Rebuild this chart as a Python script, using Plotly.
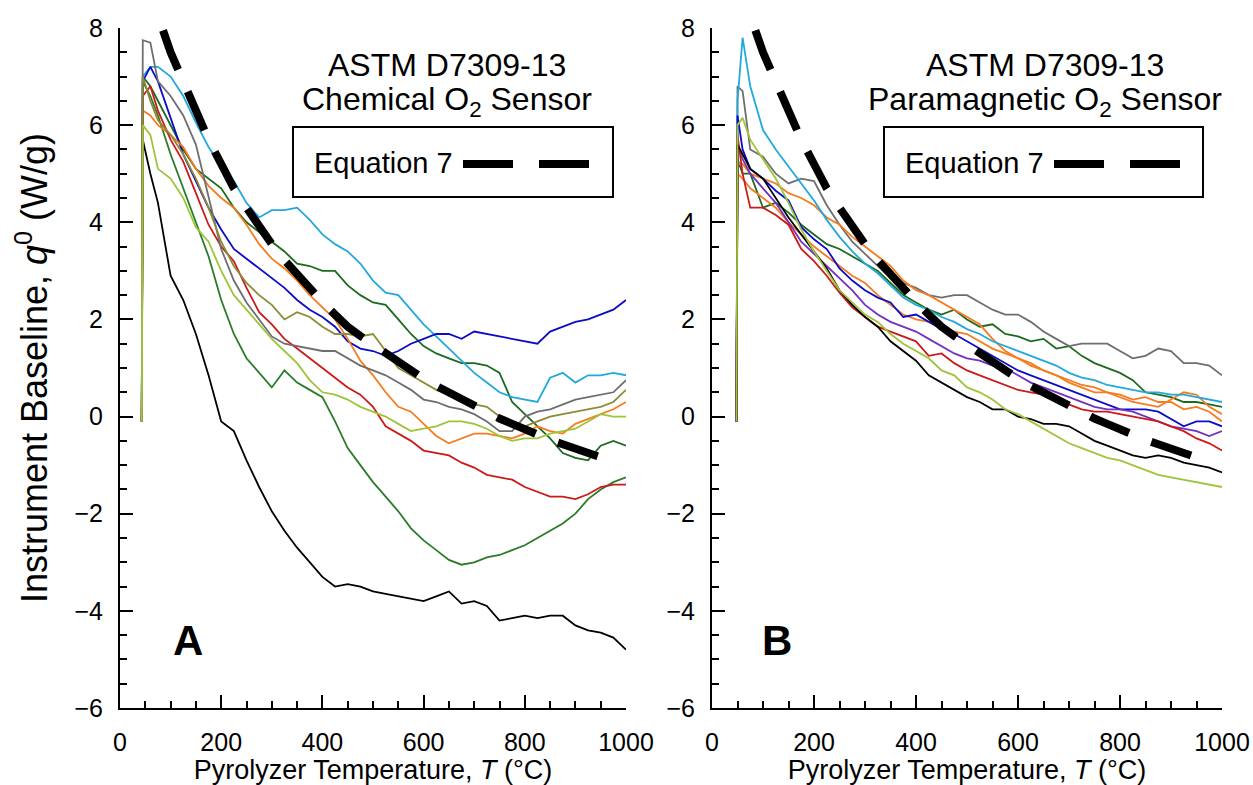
import plotly.graph_objects as go

# ---------------- data ----------------
# temperature grid, panel A (chemical sensor) and panel B (paramagnetic sensor)
T_A = [43, 45, 60, 75, 100, 125, 150, 175, 200, 225, 250, 275, 300, 325, 350, 375, 400,
       425, 450, 475, 500, 525, 550, 575, 600, 625, 650, 675, 700, 725, 750, 775, 800,
       825, 850, 875, 900, 925, 950, 975, 1000]
T_B = [48, 50, 60, 75, 100, 125, 150, 175, 200, 225, 250, 275, 300, 325, 350, 375, 400,
       425, 450, 475, 500, 525, 550, 575, 600, 625, 650, 675, 700, 725, 750, 775, 800,
       825, 850, 875, 900, 925, 950, 975, 1000]

# Panel A series (q0, W/g)
a_black = [-0.1, 5.7, 5.0, 4.4, 2.9, 2.4, 1.7, 0.85, -0.1, -0.3, -0.9, -1.45, -1.95, -2.35, -2.7, -3.0, -3.3,
           -3.5, -3.45, -3.5, -3.6, -3.65, -3.7, -3.75, -3.8, -3.7, -3.6, -3.85, -3.8, -3.9, -4.2, -4.15, -4.1,
           -4.15, -4.1, -4.1, -4.3, -4.4, -4.45, -4.55, -4.8]
a_green_low = [-0.1, 6.9, 6.6, 6.2, 5.4, 4.7, 4.0, 3.3, 2.4, 1.7, 1.2, 0.9, 0.6, 0.95, 0.7, 0.55, 0.4,
               -0.1, -0.65, -1.0, -1.35, -1.65, -1.95, -2.3, -2.55, -2.75, -2.95, -3.05, -3.0, -2.9, -2.85, -2.75, -2.65,
               -2.5, -2.35, -2.2, -2.0, -1.7, -1.5, -1.35, -1.25]
a_green_up = [-0.1, 7.0, 6.8, 6.5, 6.0, 5.5, 5.1, 4.9, 4.7, 4.3, 4.0, 3.8, 3.6, 3.4, 3.15, 3.1, 3.0,
              3.0, 2.7, 2.5, 2.35, 2.3, 2.0, 1.7, 1.45, 1.3, 1.2, 1.1, 1.1, 1.05, 0.9, 0.3, 0.05,
              -0.2, -0.45, -0.75, -0.85, -0.9, -0.6, -0.5, -0.6]
a_cyan = [-0.1, 7.0, 7.2, 7.2, 7.0, 6.6, 6.05, 5.55, 5.15, 4.85, 4.4, 4.1, 4.25, 4.25, 4.3, 4.05, 3.75,
          3.55, 3.4, 3.15, 2.8, 2.55, 2.5, 2.2, 1.9, 1.65, 1.4, 1.15, 0.9, 0.7, 0.5, 0.4, 0.35,
          0.3, 0.8, 0.9, 0.7, 0.85, 0.85, 0.9, 0.85]
a_blue = [-0.1, 6.9, 7.2, 6.9, 6.15, 5.4, 4.85, 4.3, 3.85, 3.45, 3.25, 3.05, 2.85, 2.65, 2.4, 2.2, 2.05,
          1.85, 1.55, 1.4, 1.35, 1.25, 1.35, 1.5, 1.6, 1.7, 1.7, 1.6, 1.75, 1.7, 1.65, 1.6, 1.55,
          1.5, 1.75, 1.85, 1.95, 2.0, 2.1, 2.2, 2.4]
a_orange = [-0.1, 6.3, 6.2, 6.0, 5.8, 5.55, 5.1, 4.75, 4.5, 4.3, 3.95, 3.55, 3.25, 3.05, 2.8, 2.5, 2.25,
            2.0, 1.6, 1.15, 0.85, 0.5, 0.2, 0.1, -0.15, -0.4, -0.55, -0.45, -0.35, -0.35, -0.4, -0.45, -0.35,
            -0.2, -0.3, -0.35, -0.15, -0.05, 0.05, 0.15, 0.3]
a_red = [-0.1, 6.6, 6.8, 6.3, 5.7, 5.25, 4.6, 3.95, 3.5, 3.2, 2.65, 2.15, 1.9, 1.6, 1.4, 1.2, 1.0,
         0.8, 0.6, 0.45, 0.2, -0.2, -0.35, -0.5, -0.7, -0.75, -0.8, -0.95, -1.05, -1.2, -1.25, -1.3, -1.45,
         -1.55, -1.65, -1.65, -1.7, -1.6, -1.45, -1.4, -1.4]
a_gray = [-0.1, 7.75, 7.7, 6.9, 6.6, 6.2, 5.6, 4.5, 3.45, 2.8, 2.35, 2.0, 1.65, 1.5, 1.45, 1.4, 1.35,
          1.35, 1.2, 1.05, 0.95, 0.85, 0.7, 0.55, 0.35, 0.3, 0.2, 0.15, 0.05, -0.1, -0.3, -0.3, 0.0,
          0.1, 0.15, 0.25, 0.35, 0.4, 0.45, 0.5, 0.75]
a_olive = [-0.1, 7.0, 6.5, 6.1, 5.8, 5.4, 4.9, 4.3, 3.6, 3.1, 2.75, 2.5, 2.3, 2.0, 2.15, 2.05, 1.85,
           1.7, 1.7, 1.65, 1.7, 1.35, 1.0, 0.85, 0.7, 0.55, 0.45, 0.3, 0.25, 0.2, 0.0, -0.1, -0.2,
           -0.1, 0.0, 0.05, 0.1, 0.15, 0.2, 0.3, 0.55]
a_ygreen = [-0.1, 6.0, 5.8, 5.1, 4.9, 4.5, 3.9, 3.6, 3.0, 2.5, 2.2, 1.9, 1.6, 1.35, 1.1, 0.75, 0.5,
            0.45, 0.35, 0.2, 0.1, 0.0, -0.15, -0.3, -0.25, -0.2, -0.1, -0.1, -0.15, -0.25, -0.4, -0.5, -0.45,
            -0.45, -0.35, -0.3, -0.25, -0.1, 0.05, 0.0, 0.0]

# Panel B series (q0, W/g)
b_cyan = [-0.1, 6.5, 7.8, 6.8, 5.9, 5.5, 5.15, 4.8, 4.45, 4.05, 3.7, 3.4, 3.15, 2.95, 2.7, 2.45, 2.3,
          2.2, 2.05, 1.95, 1.8, 1.7, 1.55, 1.45, 1.35, 1.25, 1.15, 1.05, 0.9, 0.8, 0.75, 0.65, 0.6,
          0.55, 0.5, 0.5, 0.45, 0.45, 0.4, 0.35, 0.3]
b_gray = [-0.1, 6.8, 6.7, 5.5, 5.35, 5.0, 4.8, 4.9, 4.85, 4.35, 3.95, 3.6, 3.35, 3.1, 2.85, 2.75, 2.65,
          2.5, 2.45, 2.5, 2.5, 2.35, 2.2, 2.1, 2.1, 1.95, 1.75, 1.6, 1.45, 1.5, 1.5, 1.5, 1.35,
          1.2, 1.25, 1.4, 1.35, 1.1, 1.1, 1.05, 0.85]
b_blue = [-0.1, 6.2, 5.5, 5.1, 4.9, 4.65, 4.45, 3.9, 3.65, 3.45, 3.05, 2.8, 2.6, 2.45, 2.35, 2.05, 2.1,
          1.95, 1.8, 1.7, 1.55, 1.4, 1.25, 1.1, 0.95, 0.85, 0.75, 0.65, 0.55, 0.45, 0.35, 0.25, 0.15,
          0.15, 0.15, 0.1, -0.05, -0.2, -0.1, -0.1, -0.2]
b_purple = [-0.1, 5.6, 5.3, 5.0, 4.7, 4.4, 4.0, 3.6, 3.35, 3.1, 2.85, 2.6, 2.3, 2.1, 1.95, 1.85, 1.75,
            1.6, 1.45, 1.3, 1.2, 1.15, 1.05, 1.0, 0.85, 0.7, 0.6, 0.5, 0.4, 0.3, 0.2, 0.15, 0.15,
            0.1, 0.0, -0.1, -0.2, -0.25, -0.3, -0.4, -0.3]
b_red = [-0.1, 5.8, 5.0, 4.3, 4.3, 4.15, 3.95, 3.45, 3.2, 2.9, 2.55, 2.25, 2.05, 1.85, 1.75, 1.65, 1.55,
         1.25, 1.3, 1.1, 0.95, 0.85, 0.75, 0.65, 0.55, 0.5, 0.45, 0.35, 0.25, 0.15, 0.1, 0.1, 0.05,
         0.0, -0.05, -0.1, -0.2, -0.3, -0.45, -0.55, -0.7]
b_black = [-0.1, 5.6, 5.4, 5.1, 4.9, 4.5, 4.1, 3.75, 3.4, 3.05, 2.6, 2.3, 2.05, 1.85, 1.55, 1.35, 1.15,
           0.85, 0.7, 0.55, 0.4, 0.3, 0.15, 0.15, 0.0, -0.05, -0.15, -0.15, -0.2, -0.35, -0.5, -0.6, -0.7,
           -0.8, -0.85, -0.8, -0.85, -0.95, -1.0, -1.05, -1.15]
b_ygreen = [-0.1, 6.0, 6.15, 5.7, 5.3, 4.9, 4.4, 3.85, 3.4, 3.0, 2.6, 2.35, 2.1, 1.95, 1.7, 1.5, 1.35,
            1.2, 0.95, 0.85, 0.6, 0.5, 0.35, 0.15, 0.05, -0.1, -0.25, -0.4, -0.55, -0.65, -0.75, -0.85, -0.9,
            -1.0, -1.1, -1.2, -1.25, -1.3, -1.35, -1.4, -1.45]
b_orange1 = [-0.1, 5.2, 5.2, 5.0, 4.9, 4.8, 4.6, 4.5, 4.35, 4.1, 3.95, 3.7, 3.5, 3.3, 3.1, 2.8, 2.6,
             2.5, 2.35, 2.2, 2.05, 1.9, 1.6, 1.35, 1.2, 1.05, 0.95, 0.85, 0.7, 0.6, 0.5, 0.5, 0.4,
             0.3, 0.25, 0.2, 0.35, 0.5, 0.45, 0.2, 0.05]
b_orange2 = [-0.1, 5.0, 4.9, 4.7, 4.5, 4.3, 4.0, 3.75, 3.5, 3.3, 3.1, 2.9, 2.75, 2.5, 2.3, 2.1, 2.0,
             1.95, 1.85, 1.75, 1.7, 1.55, 1.4, 1.3, 1.2, 1.1, 0.95, 0.85, 0.75, 0.65, 0.6, 0.5, 0.45,
             0.35, 0.4, 0.3, 0.3, 0.15, 0.2, 0.1, -0.1]
b_dgreen = [-0.1, 5.3, 5.0, 5.0, 4.3, 4.4, 4.2, 3.95, 3.75, 3.55, 3.45, 3.3, 3.15, 3.0, 2.75, 2.5, 2.35,
            2.2, 2.1, 2.2, 2.0, 1.85, 1.9, 1.7, 1.65, 1.55, 1.6, 1.4, 1.45, 1.25, 1.1, 1.0, 0.9,
            0.75, 0.5, 0.45, 0.4, 0.3, 0.3, 0.25, 0.2]

# Equation 7 (same curve in both panels)
T_EQ = [85, 100, 125, 150, 175, 200, 225, 250, 275, 300, 325, 350, 375, 400, 425, 450, 475, 500,
        525, 550, 575, 600, 625, 650, 675, 700, 725, 750, 775, 800, 825, 850, 875, 900, 925, 945]
Q_EQ = [7.95, 7.5, 6.9, 6.25, 5.7, 5.2, 4.7, 4.3, 3.9, 3.55, 3.22, 2.92, 2.62, 2.36, 2.1, 1.85, 1.66, 1.48,
        1.3, 1.12, 0.95, 0.78, 0.63, 0.49, 0.35, 0.2, 0.08, -0.04, -0.15, -0.27, -0.38, -0.48, -0.57, -0.66, -0.75, -0.82]

X_TICKS = [0, 200, 400, 600, 800, 1000]
Y_TICKS = [-6, -4, -2, 0, 2, 4, 6, 8]

# ---------------- styling ----------------
C = dict(black="#000000", green_low="#2a7c2a", green_up="#1b6a1e", cyan="#22a8dc", blue="#0c0cc8",
         orange="#f57c1f", red="#cc1a1a", gray="#6e6e6e", olive="#8e8a36", ygreen="#9ec43a",
         purple="#7430c0", dgreen="#1b6a1e")
FONT = "Liberation Sans, Arial, Helvetica, sans-serif"
W, H = 1253, 785

fig = go.Figure()

series_A = [(a_black, "black"), (a_green_low, "green_low"), (a_green_up, "green_up"), (a_cyan, "cyan"),
            (a_blue, "blue"), (a_orange, "orange"), (a_red, "red"), (a_gray, "gray"),
            (a_olive, "olive"), (a_ygreen, "ygreen")]
series_B = [(b_dgreen, "dgreen"), (b_gray, "gray"), (b_orange1, "orange"), (b_cyan, "cyan"),
            (b_orange2, "orange"), (b_blue, "blue"), (b_purple, "purple"), (b_red, "red"),
            (b_black, "black"), (b_ygreen, "ygreen")]

for vals, c in series_A:
    fig.add_trace(go.Scatter(x=T_A, y=vals, mode="lines", line=dict(color=C[c], width=1.8),
                             xaxis="x", yaxis="y", showlegend=False))
for vals, c in series_B:
    fig.add_trace(go.Scatter(x=T_B, y=vals, mode="lines", line=dict(color=C[c], width=1.8),
                             xaxis="x2", yaxis="y2", showlegend=False))

for xa, ya in (("x", "y"), ("x2", "y2")):
    fig.add_trace(go.Scatter(x=T_EQ, y=Q_EQ, mode="lines", name="Equation 7",
                             line=dict(color="black", width=8, dash="42px,24px"),
                             xaxis=xa, yaxis=ya, showlegend=False))

def px_x(p):
    return p / W

def px_y(p):
    return 1 - p / H

axis_common = dict(showline=True, linecolor="black", linewidth=2, mirror=False, automargin=False,
                   showgrid=False, zeroline=False, ticks="inside", ticklen=13, tickwidth=2,
                   tickcolor="black", tickfont=dict(family=FONT, size=25, color="black"))

xa_common = dict(axis_common, range=[0, 1000], tickvals=X_TICKS, ticklabelstandoff=11,
                 minor=dict(ticks="inside", ticklen=7, tickwidth=1.5, tickcolor="black", dtick=50),
                 title=dict(text="Pyrolyzer Temperature, <i>T</i> (°C)",
                            font=dict(family=FONT, size=27, color="black"), standoff=6))
ya_common = dict(axis_common, range=[-6, 8], tickvals=Y_TICKS, ticklabelstandoff=10,
                 minor=dict(ticks="inside", ticklen=7, tickwidth=1.5, tickcolor="black", dtick=0.5))

ydom = [px_y(708), px_y(28)]
fig.update_layout(
    width=W, height=H, autosize=False,
    margin=dict(l=0, r=0, t=0, b=0),
    paper_bgcolor="white", plot_bgcolor="white",
    font=dict(family=FONT, color="black"),
    xaxis=dict(xa_common, domain=[px_x(120), px_x(626)], anchor="y"),
    yaxis=dict(ya_common, domain=ydom, anchor="x",
               title=dict(text="Instrument Baseline, <i>q</i><sup>0</sup> (W/g)",
                          font=dict(family=FONT, size=36, color="black"), standoff=16)),
    xaxis2=dict(xa_common, domain=[px_x(712), px_x(1222)], anchor="y2"),
    yaxis2=dict(ya_common, domain=ydom, anchor="x2"),
)

annotations = []
shapes = []
for cx, sensor, box_l, box_r, letter, lx in (
        (447, "Chemical O<sub>2</sub> Sensor", 293, 613, "A", 188),
        (1045, "Paramagnetic O<sub>2</sub> Sensor", 884, 1203, "B", 777)):
    annotations.append(dict(text="ASTM D7309-13", x=px_x(cx), y=px_y(65), xref="paper", yref="paper",
                            showarrow=False, xanchor="center", yanchor="middle",
                            font=dict(family=FONT, size=32, color="black")))
    annotations.append(dict(text=sensor, x=px_x(cx), y=px_y(102), xref="paper", yref="paper",
                            showarrow=False, xanchor="center", yanchor="middle",
                            font=dict(family=FONT, size=32, color="black")))
    annotations.append(dict(text="<b>" + letter + "</b>", x=px_x(lx), y=px_y(640), xref="paper",
                            yref="paper", showarrow=False, xanchor="center", yanchor="middle",
                            font=dict(family=FONT, size=42, color="black")))
    # legend box
    shapes.append(dict(type="rect", xref="paper", yref="paper", x0=px_x(box_l), x1=px_x(box_r),
                       y0=px_y(197), y1=px_y(127), line=dict(color="black", width=2),
                       fillcolor="white", layer="above"))
    annotations.append(dict(text="Equation 7", x=px_x(box_l + 19), y=px_y(163), xref="paper",
                            yref="paper", showarrow=False, xanchor="left", yanchor="middle",
                            font=dict(family=FONT, size=29, color="black")))
    shapes.append(dict(type="line", xref="paper", yref="paper", x0=px_x(box_l + 170),
                       x1=px_x(box_l + 297), y0=px_y(164), y1=px_y(164),
                       line=dict(color="black", width=8, dash="50px,26px"), layer="above"))

fig.update_layout(annotations=annotations, shapes=shapes)

fig.write_html("out.html")
